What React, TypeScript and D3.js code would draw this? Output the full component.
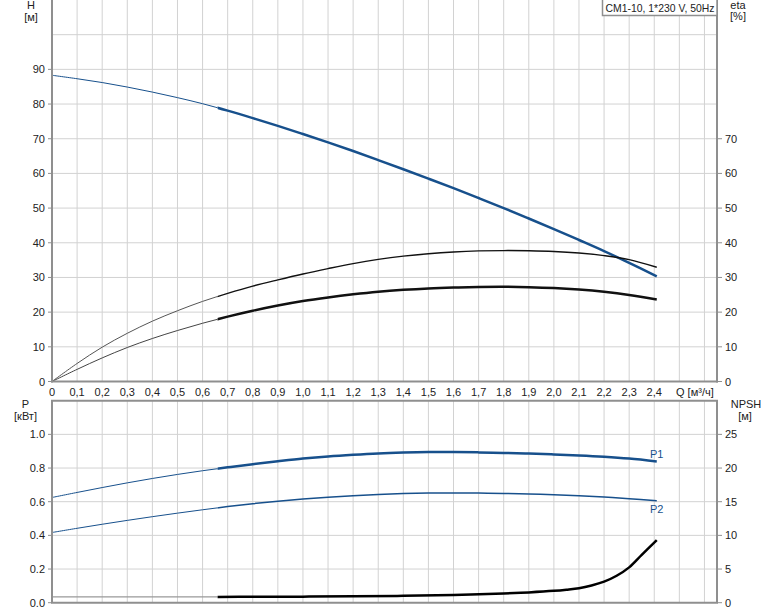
import * as d3 from "d3";

// flow points (m³/h) shared by H, eta and P curves
const qPts = [0, 0.1, 0.2, 0.3, 0.4, 0.5, 0.6, 0.7, 0.8, 0.9, 1.0, 1.1, 1.2, 1.3, 1.4, 1.5, 1.6, 1.7, 1.8, 1.9, 2.0, 2.1, 2.2, 2.3, 2.41];
const headM = [88.3, 87.3, 86.2, 84.9, 83.45, 81.85, 80.1, 78.1, 75.95, 73.7, 71.35, 68.95, 66.45, 63.85, 61.2, 58.5, 55.75, 52.9, 50.0, 47.0, 43.95, 40.8, 37.6, 34.2, 30.3];
const etaPump = [0, 5.2, 9.9, 13.9, 17.4, 20.4, 23.1, 25.4, 27.5, 29.3, 31.0, 32.55, 34.0, 35.2, 36.15, 36.85, 37.35, 37.65, 37.75, 37.7, 37.5, 37.05, 36.3, 35.15, 32.95];
const etaTotal = [0, 3.5, 6.8, 9.8, 12.4, 14.7, 16.8, 18.7, 20.4, 21.9, 23.2, 24.25, 25.15, 25.9, 26.45, 26.85, 27.1, 27.25, 27.3, 27.2, 26.95, 26.5, 25.85, 24.95, 23.65];
const p1Kw = [0.625, 0.655, 0.684, 0.712, 0.738, 0.762, 0.784, 0.804, 0.823, 0.84, 0.856, 0.869, 0.879, 0.887, 0.892, 0.895, 0.895, 0.893, 0.89, 0.886, 0.881, 0.875, 0.867, 0.856, 0.839];
const p2Kw = [0.417, 0.442, 0.466, 0.489, 0.511, 0.532, 0.552, 0.571, 0.588, 0.603, 0.616, 0.627, 0.636, 0.643, 0.648, 0.651, 0.652, 0.651, 0.649, 0.646, 0.642, 0.636, 0.628, 0.618, 0.605];

const qNpsh = [0.66, 0.8, 1.0, 1.2, 1.4, 1.6, 1.8, 1.9, 2.0, 2.05, 2.1, 2.15, 2.2, 2.25, 2.3, 2.35, 2.41];
const npshM = [0.86, 0.87, 0.9, 0.95, 1.02, 1.14, 1.36, 1.53, 1.76, 1.93, 2.15, 2.55, 3.12, 4.0, 5.25, 7.1, 9.3];
const qNpshLow = [0, 0.66];
const npshLow = [0.86, 0.86];

const qSplit = 0.66; // start of the bold (operating) range
const qTicks = d3.range(0, 25).map((i) => i / 10);
const qGrid = d3.range(1, 27).map((i) => i / 10);
const hTicks = [0, 10, 20, 30, 40, 50, 60, 70, 80, 90];
const hGrid = [10, 20, 30, 40, 50, 60, 70, 80, 90, 100];
const etaTicks = [0, 10, 20, 30, 40, 50, 60, 70];
const pTicks = [0, 0.2, 0.4, 0.6, 0.8, 1.0];
const npshTicks = [0, 5, 10, 15, 20, 25];

const W = 774;
const H = 611;
const left = 52;
const right = 717;
const top1 = 0;
const bot1 = 381.5;
const top2 = 400.7;
const bot2 = 602.7;

const BLUE = "#17508c";
const AXIS = "#8f8f8f";
const GRID = "#d2d2d2";
const TXT = "#222";
const FONT = "Liberation Sans, Arial, sans-serif";

export default function App() {
  const x = d3.scaleLinear().domain([0, 2.65]).range([left, right]);
  const yH = d3.scaleLinear().domain([0, 110]).range([bot1, top1]);
  const yP = d3.scaleLinear().domain([0, 1.2]).range([bot2, top2]);
  const yN = d3.scaleLinear().domain([0, 30]).range([bot2, top2]);

  const pairs = (qs: number[], vs: number[]) => qs.map((q, i) => [q, vs[i]] as [number, number]);

  const mk = (y: d3.ScaleLinear<number, number>) =>
    d3
      .line<[number, number]>()
      .x((d) => x(d[0]))
      .y((d) => y(d[1]))
      .curve(d3.curveCatmullRom.alpha(0.5));

  const lineH = mk(yH);
  const lineP = mk(yP);
  const lineN = mk(yN);

  const xs = x(qSplit);

  const curve = (
    gen: d3.Line<[number, number]>,
    vs: number[],
    color: string,
    thin: number,
    bold: number,
    thinColor?: string
  ) => {
    const d = gen(pairs(qPts, vs)) || "";
    return (
      <g fill="none" strokeLinecap="butt">
        <path d={d} stroke={thinColor || color} strokeWidth={thin} clipPath="url(#clipThin)" />
        <path d={d} stroke={color} strokeWidth={bold} clipPath="url(#clipBold)" />
      </g>
    );
  };

  return (
    <svg width={W} height={H} style={{ position: "absolute", left: 0, top: 0, background: "#fff" }} fontFamily={FONT}>
      <defs>
        <clipPath id="clipThin">
          <rect x={0} y={0} width={xs} height={H} />
        </clipPath>
        <clipPath id="clipBold">
          <rect x={xs} y={0} width={W - xs} height={H} />
        </clipPath>
      </defs>

      {/* grid */}
      <g stroke={GRID} strokeWidth={1}>
        {qGrid.map((q) => (
          <g key={q}>
            <line x1={x(q)} x2={x(q)} y1={top1} y2={bot1} />
            <line x1={x(q)} x2={x(q)} y1={top2} y2={bot2} />
          </g>
        ))}
        {hGrid.map((v) => (
          <line key={v} x1={left} x2={right} y1={yH(v)} y2={yH(v)} />
        ))}
        {pTicks.slice(1).map((v) => (
          <line key={v} x1={left} x2={right} y1={yP(v)} y2={yP(v)} />
        ))}
      </g>

      {/* top panel curves */}
      {curve(lineH, headM, BLUE, 1, 2.5)}
      {curve(lineH, etaPump, "#111", 1, 1.4, "#555")}
      {curve(lineH, etaTotal, "#111", 1, 2.5, "#444")}

      {/* bottom panel curves */}
      {curve(lineP, p1Kw, BLUE, 1, 2.5)}
      {curve(lineP, p2Kw, BLUE, 1, 1.5)}
      <path d={lineN(pairs(qNpshLow, npshLow)) || ""} fill="none" stroke="#999" strokeWidth={1.2} />
      <path d={lineN(pairs(qNpsh, npshM)) || ""} fill="none" stroke="#000" strokeWidth={2.5} />
      <text x={x(2.41)} y={yP(0.839) - 3} fontSize={11} fill={BLUE} textAnchor="middle">P1</text>
      <text x={x(2.41)} y={yP(0.605) + 12} fontSize={11} fill={BLUE} textAnchor="middle">P2</text>

      {/* axes frames */}
      <g stroke={AXIS} strokeWidth={2} fill="none">
        <line x1={left} x2={left} y1={top1} y2={bot1 + 1} />
        <line x1={right} x2={right} y1={top1} y2={bot1 + 1} />
        <line x1={left - 1} x2={right + 1} y1={bot1} y2={bot1} />
        <line x1={left - 1} x2={right + 1} y1={top2} y2={top2} />
        <line x1={left} x2={left} y1={top2} y2={bot2} />
        <line x1={right} x2={right} y1={top2} y2={bot2} />
        <line x1={left - 1} x2={right + 1} y1={bot2} y2={bot2} />
      </g>

      {/* ticks and labels */}
      <g stroke={AXIS} strokeWidth={1}>
        {hTicks.map((v) => (
          <line key={"h" + v} x1={left - 4} x2={left} y1={yH(v)} y2={yH(v)} />
        ))}
        {etaTicks.map((v) => (
          <line key={"e" + v} x1={right} x2={right + 5} y1={yH(v)} y2={yH(v)} />
        ))}
        {pTicks.map((v) => (
          <line key={"p" + v} x1={left - 4} x2={left} y1={yP(v)} y2={yP(v)} />
        ))}
        {npshTicks.map((v) => (
          <line key={"n" + v} x1={right} x2={right + 5} y1={yN(v)} y2={yN(v)} />
        ))}
      </g>
      <g fontSize={11} fill={TXT}>
        {hTicks.map((v) => (
          <text key={v} x={45} y={yH(v) + 4} textAnchor="end">{v}</text>
        ))}
        {etaTicks.map((v) => (
          <text key={v} x={725} y={yH(v) + 4}>{v}</text>
        ))}
        {pTicks.map((v) => (
          <text key={v} x={45} y={yP(v) + 4} textAnchor="end">{v.toFixed(1)}</text>
        ))}
        {npshTicks.map((v) => (
          <text key={v} x={725} y={yN(v) + 4}>{v}</text>
        ))}
        {qTicks.map((q) => (
          <text key={q} x={x(q)} y={395.5} textAnchor="middle">
            {q === 0 ? "0" : q.toFixed(1).replace(".", ",")}
          </text>
        ))}
        <text x={676} y={395.5}>Q [м³/ч]</text>

        <text x={31} y={9} textAnchor="middle">H</text>
        <text x={31} y={21} textAnchor="middle">[м]</text>
        <text x={738} y={9} textAnchor="middle">eta</text>
        <text x={738} y={20} textAnchor="middle">[%]</text>
        <text x={25.5} y={408} textAnchor="middle">P</text>
        <text x={25.5} y={420} textAnchor="middle">[кВт]</text>
        <text x={746} y={408} textAnchor="middle">NPSH</text>
        <text x={745} y={420} textAnchor="middle">[м]</text>
      </g>

      {/* title box */}
      <rect x={602.5} y={-1} width={114.5} height={16.5} fill="#fff" stroke={AXIS} strokeWidth={1.5} />
      <text x={605.5} y={11.5} fontSize={11} fill={TXT} textLength={109} lengthAdjust="spacingAndGlyphs">
        CM1-10, 1*230 V, 50Hz
      </text>
    </svg>
  );
}
